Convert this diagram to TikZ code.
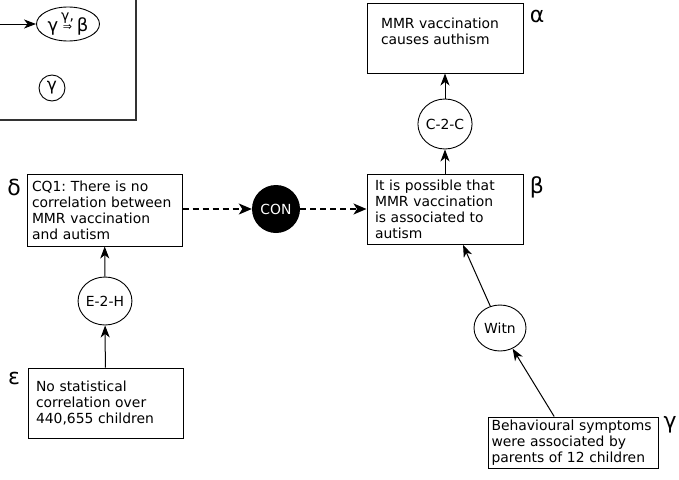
\documentclass[tikz,border=0pt]{standalone}
\usepackage{fontspec}
\setmainfont{DejaVu Sans}
\frenchspacing
\usetikzlibrary{arrows.meta,shapes.geometric,calc}

\tikzset{
  txt/.style={font=\fontsize{13.9}{16}\selectfont},
  stmt/.style={draw, line width=1pt, rectangle, txt, align=left, inner ysep=0pt},
  scheme/.style={draw, line width=0.9pt, ellipse, inner sep=0pt, txt},
  greek/.style={font=\fontsize{22}{22}\selectfont, inner sep=0pt},
  link/.style={line width=1pt, -{Stealth[length=12pt,width=9pt,inset=3.5pt]}},
  conflict/.style={line width=1.4pt, dash pattern=on 6pt off 4pt, -{Stealth[length=13pt,width=11pt,inset=3.5pt]}},
}

\begin{document}
\begin{tikzpicture}[x=1pt,y=-1pt]
\useasboundingbox (0,0) rectangle (679,479);

% key in the top-left corner
\draw[line width=1.1pt, black!80] (136,0) -- (136,120) -- (0,120);
\coordinate (keyin) at (0,24);
\node[draw, line width=0.9pt, ellipse, minimum width=63pt, minimum height=34pt, inner sep=0pt,
      font=\fontsize{18}{18}\selectfont] (keyell) at (68,24)
      {γ\,\raisebox{1pt}{\shortstack{\fontsize{14}{14}\selectfont γ,\\[-1pt]{\fontsize{11}{11}\selectfont ⇒}}}\,β};
\draw[link] (keyin) -- (keyell);
\node[draw, line width=0.9pt, circle, minimum size=26pt, inner sep=0pt,
      font=\fontsize{17}{17}\selectfont] (keyg) at (52,88) {γ};

% statements
\node[stmt, minimum width=156pt, minimum height=70pt, inner xsep=14pt] (alpha) at (445,38)
  {\parbox[c][70pt][t]{128pt}{\vspace*{15pt}MMR vaccination\\causes authism}};
\node[stmt, minimum width=156pt, minimum height=70pt, text width=140pt, inner xsep=8pt] (beta) at (445,209.5)
  {It is possible that\\MMR vaccination\\is associated to\\autism};
\node[stmt, minimum width=155pt, minimum height=72pt, text width=145pt, inner xsep=5pt] (delta) at (104.5,210)
  {CQ1: There is no\\correlation between\\MMR vaccination\\and autism};
\node[stmt, minimum width=155pt, minimum height=70pt, text width=139pt, inner xsep=8pt] (eps) at (105.5,403)
  {No statistical\\correlation over\\440,655 children};
\node[stmt, minimum width=170pt, minimum height=51pt, text width=163pt, inner xsep=3.5pt] (gamma) at (573,442.5)
  {Behavioural symptoms\\were associated by\\parents of 12 children};

% labels of the statements
\node[greek] (la) at (537,16) {α};
\node[greek] (lb) at (537,187) {β};
\node[greek] (ld) at (14,187) {δ};
\node[greek] (le) at (14,378) {ε};
\node[greek] (lg) at (670,425) {γ};

% argumentation schemes
\node[scheme, minimum width=54pt, minimum height=50pt] (c2c) at (445,124) {C-2-C};
\node[scheme, minimum width=53pt, minimum height=48pt] (e2h) at (105,301) {E-2-H};
\node[scheme, minimum width=52pt, minimum height=46pt] (witn) at (500,328) {Witn};
\node[circle, fill=black, text=white, minimum size=48pt, inner sep=0pt, txt] (con) at (276,209) {CON};

% support links
\draw[link] (c2c) -- (alpha);
\draw[link] (beta) -- (c2c);
\draw[link] (e2h) -- (delta);
\draw[link] (eps) -- (e2h);
\coordinate (betain) at ($(beta.south west)!0.615!(beta.south east)$);
\coordinate (gout) at ($(gamma.north west)!0.39!(gamma.north east)$);
\draw[link] (witn) -- (betain);
\draw[link] (gout) -- (witn);

% conflict
\draw[conflict] (delta.east |- con) -- (con);
\draw[conflict] (con) -- (beta.west |- con);
\end{tikzpicture}
\end{document}
